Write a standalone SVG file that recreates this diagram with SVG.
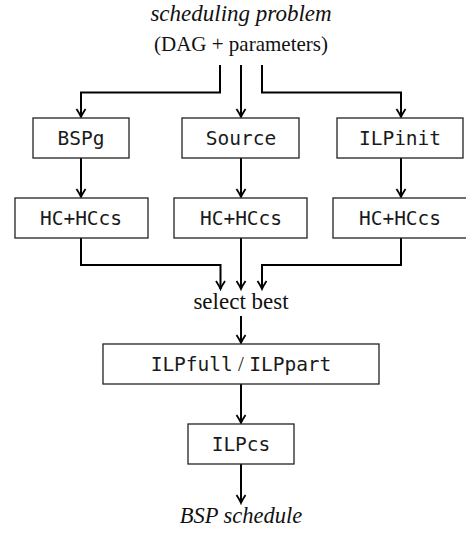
<svg xmlns="http://www.w3.org/2000/svg" width="466" height="534" viewBox="0 0 466 534">
<style>
.box{fill:#fff;stroke:#222;stroke-width:1.3}
.mono{font-family:"DejaVu Sans Mono","Liberation Mono",monospace;font-size:19.5px;fill:#1a1a1a;text-anchor:middle}
.serif{font-family:"Liberation Serif","DejaVu Serif",serif;font-size:23px;fill:#111;text-anchor:middle}
.it{font-style:italic}
.conn{fill:none;stroke:#000;stroke-width:2;marker-end:url(#arr)}
</style>
<defs>
<marker id="arr" markerUnits="userSpaceOnUse" viewBox="-10 -6 12 12" refX="0" refY="0" markerWidth="12" markerHeight="12" orient="auto">
<path d="M-8,-4.5 Q-3,-1.2 0,0 Q-3,1.2 -8,4.5" fill="none" stroke="#000" stroke-width="1.8"/>
</marker>
</defs>
<g id="title">
<text class="serif it" x="241" y="21">scheduling problem</text>
<text class="serif" x="241" y="51" style="font-size:21px">(DAG + parameters)</text>
</g>
<g id="connectors">
<path class="conn" d="M220,65 V92.5 H81 V117"/>
<path class="conn" d="M241,65 V117"/>
<path class="conn" d="M262,65 V92.5 H401 V117"/>
<path class="conn" d="M81,158 V197"/>
<path class="conn" d="M241,158 V197"/>
<path class="conn" d="M401,158 V197"/>
<path class="conn" d="M81,238 V265 H220.5 V289"/>
<path class="conn" d="M241,238 V289"/>
<path class="conn" d="M401,238 V265 H262 V289"/>
<path class="conn" d="M241,316 V343"/>
<path class="conn" d="M241,384 V423"/>
<path class="conn" d="M241,464 V503"/>
</g>
<g id="bspg"><rect class="box" x="33" y="118" width="96" height="40"/><text class="mono" x="81" y="145">BSPg</text></g>
<g id="source"><rect class="box" x="182" y="118" width="117" height="40"/><text class="mono" x="241" y="145">Source</text></g>
<g id="ilpinit"><rect class="box" x="337" y="118" width="126" height="40"/><text class="mono" x="400" y="145">ILPinit</text></g>
<g id="hc1"><rect class="box" x="15" y="198" width="133" height="40"/><text class="mono" x="81" y="225">HC+HCcs</text></g>
<g id="hc2"><rect class="box" x="174" y="198" width="133" height="40"/><text class="mono" x="241" y="225">HC+HCcs</text></g>
<g id="hc3"><rect class="box" x="333" y="198" width="136" height="40"/><text class="mono" x="400" y="225">HC+HCcs</text></g>
<g id="select"><text class="serif" x="241" y="309">select best</text></g>
<g id="ilpfull"><rect class="box" x="103" y="344" width="276" height="40"/><text class="mono" x="241" y="371">ILPfull<tspan style="font-family:'Liberation Serif',serif;font-size:21px"> / </tspan>ILPpart</text></g>
<g id="ilpcs"><rect class="box" x="188" y="424" width="106" height="40"/><text class="mono" x="241" y="451">ILPcs</text></g>
<g id="result"><text class="serif it" x="241" y="523" style="font-size:22.5px">BSP schedule</text></g>
</svg>
